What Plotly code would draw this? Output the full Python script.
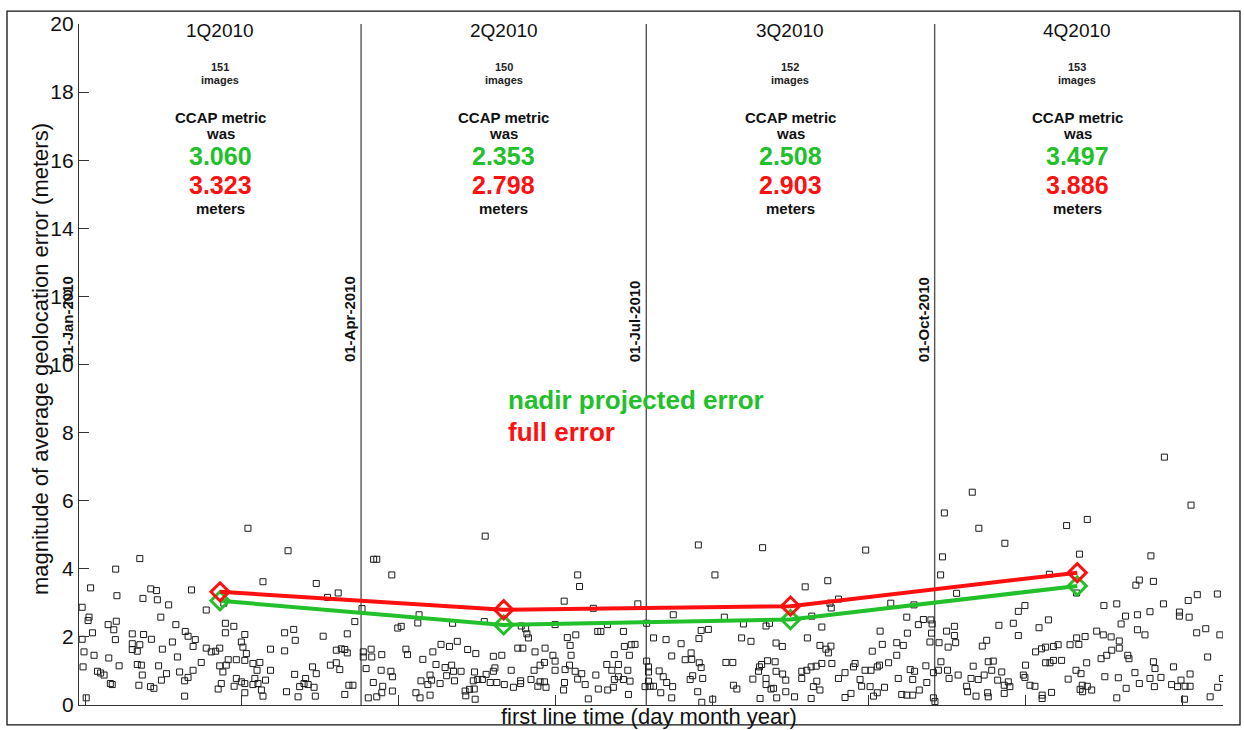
import pandas as pd
import plotly.graph_objects as go

# ---------------- data ----------------
base_date = "2010-01-01"

# scatter: day offset from 01-Jan-2010 and error magnitude (meters)
q1_days = [53.9, 19.4, 66.7, 11.7, 3.7, 58.7, 75.7, 22.9, 24.7, 35.9, 12.1, 20.4, 25.0, 28.6, 40.6, 46.2, 1.0, 82.7, 79.3,
           3.2, 2.9, 26.1, 11.9, 9.3, 11.1, 4.3, 30.9, 46.7, 49.4, 33.9, 34.8, 37.1, 17.0, 20.6, 46.7, 52.9, 65.6, 68.5,
           69.0, 77.9, 85.6, 88.0, 1.0, 11.6, 23.1, 29.8, 17.0, 19.4, 18.6, 17.0, 26.6, 36.4, 51.8, 52.3, 40.6, 42.2,
           43.6, 44.9, 53.4, 61.1, 65.6, 82.1, 83.7, 85.6, 84.8, 1.6, 4.8, 9.5, 12.8, 1.3, 18.6, 19.9, 25.4, 31.4, 39.0,
           47.6, 50.2, 52.9, 55.5, 57.7, 56.8, 44.9, 47.0, 45.9, 61.1, 68.8, 74.5, 75.7, 80.2, 82.1, 83.2, 5.9, 6.9, 8.0,
           10.0, 10.6, 20.2, 19.1, 22.8, 23.9, 26.3, 27.9, 32.1, 33.7, 34.8, 36.4, 33.7, 44.4, 45.4, 49.5, 50.2, 51.8,
           52.9, 52.9, 55.5, 56.1, 57.1, 58.2, 58.7, 59.5, 66.2, 69.9, 70.4, 71.8, 73.1, 72.3, 75.0, 75.4, 84.8, 86.1,
           87.4, 2.3]
q1_vals = [5.19, 4.30, 4.53, 3.99, 3.44, 3.62, 3.57, 3.41, 3.36, 3.38, 3.21, 3.13, 3.09, 2.94, 2.79, 2.99, 2.87, 3.29, 3.16,
           2.58, 2.48, 2.58, 2.46, 2.36, 2.21, 2.12, 2.36, 2.40, 2.31, 2.16, 2.02, 1.92, 2.09, 2.07, 2.12, 2.07, 2.12, 2.22,
           1.90, 2.02, 2.09, 2.45, 1.93, 1.92, 1.93, 1.85, 1.80, 1.77, 1.58, 1.63, 1.64, 1.72, 1.85, 1.70, 1.67, 1.56,
           1.58, 1.67, 1.51, 1.64, 1.59, 1.61, 1.65, 1.53, 1.63, 1.56, 1.46, 1.38, 1.15, 1.12, 1.19, 1.17, 1.15, 1.41, 1.25,
           1.33, 1.33, 1.31, 1.22, 1.25, 1.02, 1.15, 1.17, 0.97, 1.02, 0.90, 1.12, 0.92, 1.17, 1.24, 1.04, 0.99, 0.94, 0.88,
           0.63, 0.60, 0.88, 0.58, 0.54, 0.49, 0.73, 0.92, 0.97, 0.71, 0.81, 1.02, 0.26, 0.47, 0.63, 0.55, 0.78, 0.68,
           0.63, 0.36, 0.60, 0.78, 0.63, 0.44, 0.26, 0.73, 0.39, 0.24, 0.54, 0.63, 0.60, 0.78, 0.52, 0.26, 0.31, 0.58,
           0.58, 0.21]

q2_days = [90.3, 129.6, 94.0, 95.0, 99.8, 159.1, 159.7, 154.8, 164.1, 178.3, 108.5, 108.1, 119.2, 129.3, 101.7, 102.8,
           141.1, 142.5, 142.9, 143.4, 151.9, 168.6, 165.5, 166.5, 173.7, 155.8, 158.5, 156.7, 93.2, 90.7, 90.7, 93.4,
           96.6, 104.3, 104.8, 109.7, 112.9, 115.5, 118.2, 120.7, 124.0, 126.6, 132.2, 134.9, 140.0, 141.6, 145.5, 148.7,
           151.2, 151.9, 157.0, 148.5, 147.1, 156.5, 170.8, 174.0, 176.2, 177.4, 175.6, 91.6, 96.4, 99.5, 100.0, 93.9,
           96.9, 96.6, 100.0, 92.3, 95.0, 113.9, 116.8, 118.9, 119.5, 121.9, 117.3, 119.8, 112.0, 112.5, 111.3, 109.1,
           115.2, 107.5, 108.8, 112.0, 123.2, 124.6, 126.1, 126.4, 123.4, 125.8, 127.2, 128.7, 126.2, 129.9, 132.2, 132.7,
           131.2, 133.3, 135.7, 137.9, 138.6, 140.9, 140.9, 144.2, 145.2, 146.4, 147.1, 148.5, 149.0, 151.9, 155.1, 154.9,
           154.6, 158.3, 160.4, 159.1, 161.5, 162.5, 165.7, 164.9, 168.4, 170.0, 172.1, 170.8, 172.1, 173.7, 175.8, 175.1,
           170.5, 168.7, 175.3]
q2_vals = [2.83, 4.96, 4.28, 4.28, 3.82, 3.82, 3.48, 3.05, 2.84, 2.97, 2.65, 2.41, 2.40, 2.45, 2.26, 2.31,
           2.32, 2.24, 2.09, 1.97, 2.36, 2.36, 2.16, 2.16, 2.16, 1.98, 2.06, 1.75, 1.64, 1.56, 1.41, 1.41,
           1.48, 1.64, 1.48, 1.34, 1.56, 1.78, 1.72, 1.87, 1.63, 1.51, 1.43, 1.46, 1.67, 1.67, 1.56, 1.67,
           1.46, 1.29, 1.46, 1.25, 1.17, 1.17, 1.48, 1.72, 1.77, 1.78, 1.46, 1.07, 1.02, 0.99, 0.83, 0.66,
           0.55, 0.36, 0.41, 0.21, 0.24, 1.19, 1.10, 1.17, 0.99, 0.99, 0.86, 0.71, 0.88, 0.73, 0.60, 0.71,
           0.63, 0.36, 0.21, 0.29, 0.41, 0.46, 0.47, 0.17, 0.27, 0.71, 0.75, 0.75, 0.97, 0.90, 0.99, 1.09,
           0.66, 0.66, 0.60, 1.02, 0.52, 0.71, 0.63, 0.75, 1.02, 0.55, 0.68, 0.68, 0.52, 1.02, 1.04, 0.66,
           0.44, 0.99, 0.92, 0.76, 0.60, 0.18, 0.47, 0.88, 1.19, 1.02, 1.19, 0.75, 0.83, 0.75, 0.70, 1.02,
           0.52, 0.44, 0.31]

q3_days = [197.6, 218.1, 251.0, 202.9, 231.7, 238.9, 242.3, 239.6, 240.0, 259.0, 266.4, 189.6, 205.9, 181.1, 212.0,
           219.2, 220.3, 233.8, 237.0, 264.1, 267.8, 269.4, 198.5, 200.8, 183.3, 187.3, 192.1, 197.8, 211.4, 214.4,
           222.4, 224.4, 232.4, 236.4, 238.3, 239.9, 239.1, 255.6, 256.3, 253.1, 260.9, 263.0, 264.3, 260.9, 195.3,
           189.1, 193.4, 195.5, 197.9, 198.5, 181.1, 181.7, 181.7, 185.1, 186.4, 187.5, 189.4, 181.7, 182.2, 180.6,
           183.3, 195.8, 195.0, 199.0, 185.6, 189.1, 197.4, 198.7, 202.2, 206.4, 208.6, 208.8, 209.9, 215.0, 216.8,
           217.1, 217.8, 219.7, 222.1, 222.4, 224.5, 225.5, 219.2, 219.2, 220.8, 221.6, 225.5, 228.3, 222.6, 217.3,
           230.6, 230.6, 232.2, 233.6, 235.2, 237.0, 240.2, 235.4, 234.3, 236.4, 233.6, 242.3, 244.4, 247.1, 247.6,
           250.8, 252.7, 254.7, 255.4, 258.3, 249.2, 249.7, 252.4, 254.7, 253.5, 257.0, 246.3, 244.4, 261.4, 265.2,
           266.6, 266.0, 270.2, 270.5, 268.1, 264.1, 262.5, 266.0]
q3_vals = [4.70, 4.62, 4.55, 3.82, 3.47, 3.65, 3.11, 2.99, 2.85, 2.99, 2.94, 2.65, 2.58, 2.40, 2.38,
           2.32, 2.40, 2.61, 2.29, 2.58, 2.36, 2.51, 2.19, 2.22, 1.97, 1.92, 1.80, 1.95, 1.97, 1.87,
           1.82, 1.72, 1.97, 1.75, 1.64, 1.73, 1.53, 2.17, 1.78, 1.58, 1.83, 1.75, 2.11, 1.46, 1.53,
           1.44, 1.33, 1.34, 1.24, 1.10, 1.29, 1.12, 0.97, 1.00, 0.83, 0.66, 0.54, 0.70, 0.55, 0.54,
           0.55, 0.86, 0.75, 0.78, 0.36, 0.21, 0.39, 0.08, 0.17, 1.25, 1.25, 0.58, 0.47, 0.76, 0.99,
           1.12, 1.19, 1.30, 1.27, 0.99, 0.91, 0.73, 0.78, 0.60, 0.47, 0.49, 0.39, 0.24, 0.21, 0.19,
           0.99, 0.78, 1.02, 1.12, 1.14, 1.22, 1.22, 0.70, 0.54, 0.44, 0.19, 0.78, 0.95, 1.12, 1.22,
           1.02, 1.02, 1.12, 1.17, 1.24, 0.75, 0.55, 0.54, 0.36, 0.26, 0.52, 0.34, 0.22, 0.78, 1.04,
           0.99, 0.75, 1.15, 0.66, 0.44, 0.29, 0.31, 0.29]

q4_days = [346.3, 285.0, 354.8, 276.1, 287.1, 315.1, 321.7, 295.4, 275.5, 319.2, 342.0, 274.9, 309.6, 338.3, 337.2,
           342.8, 280.0, 318.3, 301.8, 299.7, 327.0, 331.1, 346.0, 353.9, 356.8, 363.2, 333.9, 337.7, 341.7, 351.1,
           351.1, 354.2, 309.3, 306.3, 298.1, 293.5, 299.7, 332.5, 337.7, 340.1, 324.7, 326.8, 329.3, 331.9, 331.9,
           356.6, 359.5, 364.0, 271.8, 272.2, 272.0, 271.5, 274.4, 276.8, 279.3, 279.3, 279.7, 277.3, 289.6, 288.2,
           305.2, 307.1, 308.4, 310.9, 312.4, 316.2, 318.3, 319.0, 321.0, 329.5, 327.9, 326.1, 334.6, 335.0, 308.4,
           309.8, 310.9, 313.5, 302.0, 321.5, 318.1, 319.7, 315.6, 275.0, 274.2, 272.6, 277.1, 277.6, 280.5, 285.3,
           290.1, 291.7, 291.2, 288.8, 286.9, 284.6, 283.2, 283.5, 286.2, 289.9, 290.1, 294.4, 293.1, 295.2, 296.5,
           295.2, 297.0, 301.3, 301.8, 303.4, 305.0, 307.3, 307.3, 310.3, 319.4, 320.2, 321.7, 323.1, 320.1, 327.3,
           331.6, 331.1, 334.1, 336.9, 338.3, 341.7, 343.1, 342.8, 343.3, 345.2, 349.2, 348.6, 350.5, 351.6, 352.9,
           354.5, 354.5, 360.1, 352.7, 360.9, 363.3, 364.8, 273.1, 272.6]
q4_vals = [7.28, 6.25, 5.87, 5.64, 5.19, 5.27, 5.45, 4.75, 4.35, 4.43, 4.38, 3.82, 3.84, 3.67, 3.52,
           3.63, 3.28, 3.29, 2.92, 2.75, 2.92, 2.97, 2.97, 3.07, 3.24, 3.26, 2.61, 2.65, 2.74, 2.73,
           2.61, 2.58, 2.50, 2.27, 2.40, 2.34, 2.04, 2.38, 2.21, 2.06, 2.17, 2.06, 2.00, 1.88, 1.67,
           2.12, 2.24, 2.06, 2.50, 2.38, 2.11, 1.85, 1.83, 2.17, 2.31, 2.04, 1.83, 1.70, 1.90, 1.73,
           1.56, 1.65, 1.70, 1.72, 1.77, 1.77, 1.97, 1.78, 2.01, 1.61, 1.46, 1.36, 1.46, 1.36, 1.24,
           1.24, 1.31, 1.31, 1.17, 1.24, 1.02, 0.92, 0.76, 1.27, 1.02, 0.95, 1.02, 0.78, 0.88, 1.14,
           1.27, 1.29, 1.02, 0.88, 0.75, 0.78, 0.55, 0.39, 0.26, 0.36, 0.24, 0.97, 0.73, 0.58, 0.68,
           0.34, 0.54, 0.88, 0.81, 0.58, 0.55, 0.29, 0.19, 0.37, 0.46, 0.39, 0.55, 0.44, 0.58, 0.83,
           0.80, 0.21, 0.49, 0.95, 0.63, 0.78, 0.54, 1.27, 1.07, 0.81, 1.12, 0.60, 0.54, 0.73, 0.55,
           0.55, 0.91, 1.41, 0.17, 0.24, 0.52, 0.78, 0.10, 0.21]

quarter_labels = ["1Q2010", "2Q2010", "3Q2010", "4Q2010"]
quarter_mid = ["2010-02-15", "2010-05-16 12:00", "2010-08-16", "2010-11-15 12:00"]
image_counts = [151, 150, 152, 153]
nadir_error = [3.060, 2.353, 2.508, 3.497]
full_error = [3.323, 2.798, 2.903, 3.886]

boundary_dates = ["2010-01-01", "2010-04-01", "2010-07-01", "2010-10-01"]
boundary_labels = ["01-Jan-2010", "01-Apr-2010", "01-Jul-2010", "01-Oct-2010"]

y_ticks = [0, 2, 4, 6, 8, 10, 12, 14, 16, 18, 20]

# ---------------- figure ----------------
FONT = "Liberation Sans, Arial, Helvetica, sans-serif"
GREEN = "#22c02a"
RED = "#ff1010"
AXC = "#333333"

t0 = pd.Timestamp(base_date)
all_days = q1_days + q2_days + q3_days + q4_days
all_vals = q1_vals + q2_vals + q3_vals + q4_vals
x_pts = [t0 + pd.Timedelta(days=d) for d in all_days]

fig = go.Figure()
fig.add_trace(go.Scatter(
    x=x_pts, y=all_vals, mode="markers",
    marker=dict(symbol="square-open", size=6, color="#1a1a1a", line=dict(width=1, color="#1a1a1a")),
    showlegend=False, hoverinfo="x+y"))

xm = [pd.Timestamp(d) for d in quarter_mid]
fig.add_trace(go.Scatter(
    x=xm, y=nadir_error, mode="lines+markers",
    line=dict(color=GREEN, width=4),
    marker=dict(symbol="diamond-open", size=14, color=GREEN, line=dict(width=3, color=GREEN)),
    showlegend=False))
fig.add_trace(go.Scatter(
    x=xm, y=full_error, mode="lines+markers",
    line=dict(color=RED, width=4),
    marker=dict(symbol="diamond-open", size=14, color=RED, line=dict(width=3, color=RED)),
    showlegend=False))

shapes = []
for d in boundary_dates[1:]:
    shapes.append(dict(type="line", xref="x", yref="y", x0=d, x1=d, y0=0, y1=20,
                       line=dict(color="#555555", width=1.4), layer="below"))
# outer frame
W, H = 1244, 730
L, R, T, B = 79, 21, 20, 25
pw, ph = W - L - R, H - T - B
def px(p):
    return (p - L) / pw
def py(p):
    return (H - B - p) / ph
shapes.append(dict(type="rect", xref="paper", yref="paper",
                   x0=px(7), x1=px(1240), y0=py(725), y1=py(7),
                   line=dict(color="#111111", width=1.3), fillcolor="rgba(0,0,0,0)", layer="below"))

ann = []
for d, lab in zip(boundary_dates, boundary_labels):
    ann.append(dict(x=d, y=10, xref="x", yref="y", text="<b>" + lab + "</b>", textangle=-90,
                    xanchor="right", yanchor="bottom", xshift=-1, showarrow=False,
                    font=dict(family=FONT, size=15, color="#111111")))

def yv(p):
    # pixel row -> data value (text is nudged up to compensate for the box descent)
    return (705 - (p - 3.5)) / 34.25

for q, xmid, n, g, r in zip(quarter_labels, xm, image_counts, nadir_error, full_error):
    ann.append(dict(x=xmid, y=yv(30), text=q, showarrow=False, xanchor="center", yanchor="middle",
                    font=dict(family=FONT, size=19, color="#111111")))
    ann.append(dict(x=xmid, y=yv(67), text="<b>%d</b>" % n, showarrow=False, xanchor="center", yanchor="middle",
                    font=dict(family=FONT, size=11, color="#222222")))
    ann.append(dict(x=xmid, y=yv(79.5), text="<b>images</b>", showarrow=False, xanchor="center", yanchor="middle",
                    font=dict(family=FONT, size=11, color="#222222")))
    ann.append(dict(x=xmid, y=yv(118), text="<b>CCAP metric</b>", showarrow=False, xanchor="center", yanchor="middle",
                    font=dict(family=FONT, size=15, color="#111111")))
    ann.append(dict(x=xmid, y=yv(134), text="<b>was</b>", showarrow=False, xanchor="center", yanchor="middle",
                    font=dict(family=FONT, size=15, color="#111111")))
    ann.append(dict(x=xmid, y=yv(156), text="<b>%.3f</b>" % g, showarrow=False, xanchor="center", yanchor="middle",
                    font=dict(family=FONT, size=25, color=GREEN)))
    ann.append(dict(x=xmid, y=yv(185), text="<b>%.3f</b>" % r, showarrow=False, xanchor="center", yanchor="middle",
                    font=dict(family=FONT, size=25, color=RED)))
    ann.append(dict(x=xmid, y=yv(209), text="<b>meters</b>", showarrow=False, xanchor="center", yanchor="middle",
                    font=dict(family=FONT, size=15, color="#111111")))

legend_x = t0 + pd.Timedelta(days=(506 - 79) / 3.134)
ann.append(dict(x=legend_x, y=yv(402), text="<b>nadir projected error</b>", showarrow=False,
                xanchor="left", yanchor="middle", font=dict(family=FONT, size=26, color=GREEN)))
ann.append(dict(x=legend_x, y=yv(434), text="<b>full error</b>", showarrow=False,
                xanchor="left", yanchor="middle", font=dict(family=FONT, size=26, color=RED)))

ann.append(dict(xref="paper", yref="paper", x=px(649), y=py(717), text="first line time (day month year)",
                showarrow=False, xanchor="center", yanchor="middle",
                font=dict(family=FONT, size=22, color="#111111")))
ann.append(dict(xref="paper", yref="paper", x=px(40), y=py(357), text="magnitude of average geolocation error (meters)",
                textangle=-90, showarrow=False, xanchor="center", yanchor="middle",
                font=dict(family=FONT, size=22, color="#111111")))

x_tickvals = list(pd.date_range("2010-01-03", periods=8, freq="50D"))

fig.update_layout(
    width=W, height=H, margin=dict(l=L, r=R, t=T, b=B),
    paper_bgcolor="white", plot_bgcolor="white",
    shapes=shapes, annotations=ann, showlegend=False,
    font=dict(family=FONT, color="#111111"),
    xaxis=dict(type="date", range=["2010-01-01", "2011-01-01"], showgrid=False, zeroline=False,
               showline=True, linecolor=AXC, linewidth=1.3, ticks="inside", ticklen=10, tickcolor=AXC,
               tickvals=x_tickvals, showticklabels=False),
    yaxis=dict(range=[0, 20], tickvals=y_ticks, showgrid=False, zeroline=False,
               showline=True, linecolor=AXC, linewidth=1.3, ticks="inside", ticklen=10, tickcolor=AXC,
               tickfont=dict(family=FONT, size=21, color="#111111")),
)

fig.write_html("out.html")
